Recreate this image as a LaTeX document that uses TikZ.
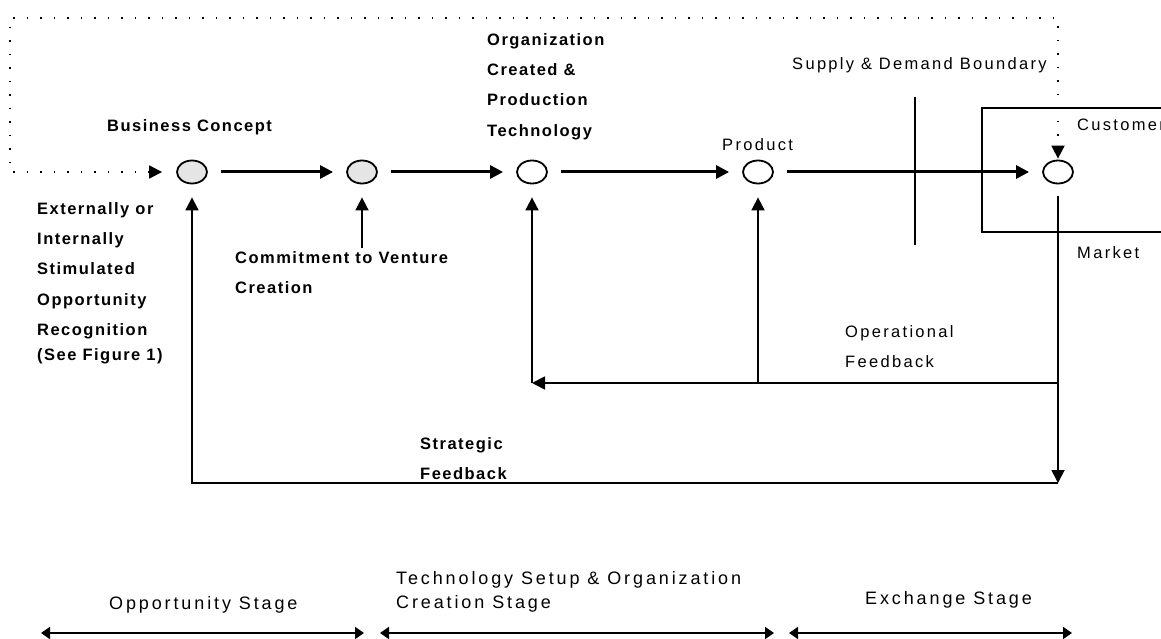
\documentclass[tikz,border=0pt]{standalone}
\usepackage{fontspec}
\setmainfont{Liberation Sans}[LetterSpace=14,BoldFeatures={LetterSpace=9}]
\newfontfamily\stagefont{Liberation Sans}[LetterSpace=16]
\usetikzlibrary{shapes.geometric,arrows.meta}
\tikzset{event/.style={draw,line width=1.8pt,ellipse,minimum width=30pt,minimum height=23pt,inner sep=0pt}}
\tikzset{lbl/.style={inner sep=0pt,anchor=north west,align=left,font=\fontsize{16.5}{30.3}\selectfont}}
\tikzset{lblb/.style={lbl,font=\fontsize{16.5}{30.3}\selectfont\bfseries}}
\tikzset{stagelbl/.style={lbl,font=\stagefont\fontsize{18}{24}\selectfont}}
\tikzset{flow/.style={line width=3pt,shorten <=13pt,shorten >=13pt}}
\tikzset{fb/.style={line width=1.8pt}}
\tikzset{dots/.style={line width=1.8pt,dash pattern=on 1.5pt off 12pt}}
\tikzset{span/.style={fb,{Triangle[length=9pt,width=12pt]}-{Triangle[length=9pt,width=12pt]}}}

\begin{document}
\begin{tikzpicture}[x=1pt,y=-1pt,>={Triangle[length=13pt,width=13pt]}]
        \useasboundingbox(0,0)rectangle(1161,639);
        \clip(0,0)rectangle(1161,639);

        \node[event,fill=gray!20](bc)at(192,172){};
        \node[event,fill=gray!20](cv)at(362,172){};
        \node[event](org)at(532,172){};
        \node[event](prod)at(758,172){};
        \node[event](cust)at(1058,172){};

        \coordinate(dl)at(10,172);
        \coordinate(tl)at(10,18);
        \coordinate(tr)at(1058,18);
        \coordinate(cm)at(362,248);
        \coordinate(opr)at(1058,383);
        \coordinate(opm)at(758,383);
        \coordinate(opl)at(532,383);
        \coordinate(str)at(1058,483);
        \coordinate(stl)at(192,483);
        \coordinate(sdt)at(915,97);
        \coordinate(sdb)at(915,245);

        \draw[dots,<->,shorten <=14pt,shorten >=1pt](bc)--(dl)--(tl)--(tr)--(cust);

        \draw[->,flow](bc)--(cv);
        \draw[->,flow](cv)--(org);
        \draw[->,flow](org)--(prod);
        \draw[->,flow](prod)--(cust);

        \draw[fb](sdt)--(sdb);
        \draw[fb](1200,108)-|(982,232)--(1200,232);

        \draw[->,fb,shorten >=13pt](cm)--(cv);
        \draw[->,fb,shorten <=12pt](cust)--(str);
        \draw[->,fb,shorten >=13pt](str)--(stl)--(bc);
        \draw[->,fb](opr)--(opl);
        \draw[->,fb,shorten >=13pt](opl)--(org);
        \draw[->,fb,shorten >=13pt](opm)--(prod);

        \node[lblb](bcl)at(107,119){Business Concept};
        \node[lblb](orgl)at(487,33){Organization\\Created \&\\Production\\Technology};
        \node[lbl](prodl)at(722,138){Product};
        \node[lbl](sdl)at(792,57){Supply \& Demand Boundary};
        \node[lbl](custl)at(1077,119){Customer};
        \node[lbl](mktl)at(1077,246){Market};
        \node[lblb](oppl)at(37,202){Externally or\\Internally\\Stimulated\\Opportunity\\Recognition\\[-5pt](See Figure 1)};
        \node[lblb](cml)at(235,251){Commitment to Venture\\Creation};
        \node[lblb](strl)at(420,437){Strategic\\Feedback};
        \node[lbl](opfl)at(845,325){Operational\\Feedback};

        \coordinate(s1l)at(41,633);
        \coordinate(s1r)at(364,633);
        \coordinate(s2l)at(380,633);
        \coordinate(s2r)at(774,633);
        \coordinate(s3l)at(789,633);
        \coordinate(s3r)at(1072,633);
        \draw[span](s1l)--(s1r);
        \draw[span](s2l)--(s2r);
        \draw[span](s3l)--(s3r);

        \node[stagelbl](st1)at(109,596){Opportunity Stage};
        \node[stagelbl](st2)at(396,571){Technology Setup \& Organization\\Creation Stage};
        \node[stagelbl](st3)at(865,591){Exchange Stage};
\end{tikzpicture}
\end{document}
